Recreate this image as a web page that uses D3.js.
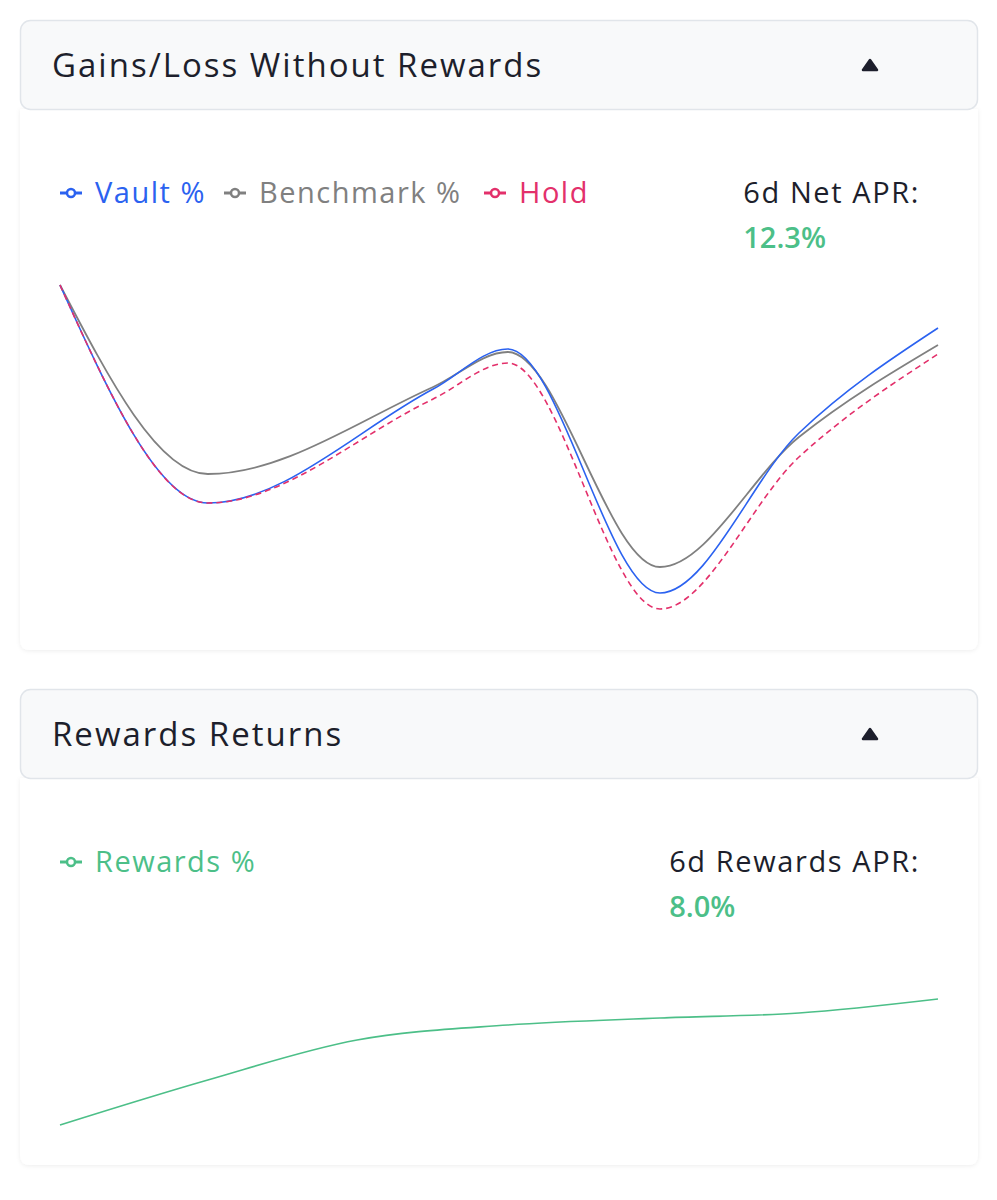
<!DOCTYPE html>
<html>
<head>
<meta charset="utf-8">
<script src="https://cdn.jsdelivr.net/npm/d3@7"></script>
<style>
  html, body { margin: 0; padding: 0; background: #ffffff; }
  svg { display: block; font-family: "Open Sans", "Noto Sans", sans-serif; }
</style>
</head>
<body>
<svg id="chart" width="997" height="1200"></svg>
<script>
// ---- data ----
const gainDays = [0, 1.01, 2.55, 3.06, 4.10, 5.05, 6];
const vaultPct = [0, -2.18, -1.04, -0.64, -3.08, -1.48, -0.43];
const benchmarkPct = [0, -1.89, -1.02, -0.67, -2.82, -1.52, -0.60];
const holdPct = [0, -2.18, -1.14, -0.78, -3.24, -1.72, -0.69];
const rewardDays = [0, 1.01, 2.03, 3.06, 4.10, 5.05, 6];
const rewardsPct = [0, 0.045, 0.085, 0.100, 0.107, 0.112, 0.126];
const netAPR = "12.3%";
const rewardsAPR = "8.0%";
const seriesNames = ["Vault %", "Benchmark %", "Hold"];

const svg = d3.select("#chart");
const defs = svg.append("defs");
const f = defs.append("filter").attr("id", "shadow").attr("x", "-5%").attr("y", "-5%").attr("width", "110%").attr("height", "115%");
f.append("feDropShadow").attr("dx", 0).attr("dy", 1).attr("stdDeviation", 2).attr("flood-color", "#000").attr("flood-opacity", 0.07);

const ink = "#1d1f2c";
const colors = ["#2b62f0", "#808080", "#e3306b"];
const green = "#4cbf88";

function card(top, bodyBottom, title) {
  const left = 20, right = 978, headH = 89, r = 10;
  const bodyTop = top + headH;
  const w = right - left;
  const path = `M${left},${bodyTop} H${right} V${bodyBottom - r} Q${right},${bodyBottom} ${right - r},${bodyBottom} H${left + r} Q${left},${bodyBottom} ${left},${bodyBottom - r} Z`;
  svg.append("path").attr("d", path).attr("fill", "#ffffff").attr("filter", "url(#shadow)");
  svg.append("rect").attr("x", left + 0.5).attr("y", top + 0.5).attr("width", w - 1).attr("height", headH)
    .attr("rx", r).attr("fill", "#f8f9fa").attr("stroke", "#e1e5ea").attr("stroke-width", 1.5);
  svg.append("text").attr("x", 52).attr("y", top + 57).attr("font-size", 33).attr("font-weight", 500)
    .attr("letter-spacing", 2).attr("fill", ink).text(title);
  const cx = 870, cy = top + 45;
  svg.append("path").attr("d", `M${cx - 7},${cy + 5} L${cx},${cy - 5} L${cx + 7},${cy + 5} Z`)
    .attr("fill", ink).attr("stroke", ink).attr("stroke-width", 2.5).attr("stroke-linejoin", "round");
}

card(20, 650, "Gains/Loss Without Rewards");
card(689, 1165, "Rewards Returns");

function legendItem(x, y, color, label) {
  svg.append("line").attr("x1", x).attr("x2", x + 22).attr("y1", y - 10).attr("y2", y - 10)
    .attr("stroke", color).attr("stroke-width", 3);
  svg.append("circle").attr("cx", x + 11).attr("cy", y - 10).attr("r", 4).attr("fill", "#fff")
    .attr("stroke", color).attr("stroke-width", 2.5);
  svg.append("text").attr("x", x + 35).attr("y", y).attr("font-size", 29).attr("letter-spacing", 1.5)
    .attr("fill", color).text(label);
}

function aprBlock(rightX, y, label, value) {
  const t = svg.append("text").attr("x", rightX).attr("y", y).attr("text-anchor", "end")
    .attr("font-size", 29).attr("font-weight", 500).attr("letter-spacing", 1.6).attr("fill", ink).text(label);
  const bb = t.node().getBBox();
  svg.append("text").attr("x", bb.x).attr("y", y + 45).attr("font-size", 29).attr("font-weight", 600)
    .attr("letter-spacing", 0).attr("fill", green).text(value);
}

legendItem(60, 203, colors[0], seriesNames[0]);
legendItem(224, 203, colors[1], seriesNames[1]);
legendItem(484, 203, colors[2], seriesNames[2]);
aprBlock(920, 203, "6d Net APR:", netAPR);

legendItem(60, 872, green, "Rewards %");
aprBlock(920, 872, "6d Rewards APR:", rewardsAPR);

// ---- chart 1 ----
const x = d3.scaleLinear().domain([0, 6]).range([60, 938]);
const allVals = vaultPct.concat(benchmarkPct, holdPct);
const y1 = d3.scaleLinear().domain([d3.min(allVals), d3.max(allVals)]).range([609, 285]);
const line1 = d3.line().x((d, i) => x(gainDays[i])).y(d => y1(d)).curve(d3.curveMonotoneX);

svg.append("path").attr("d", line1(benchmarkPct)).attr("fill", "none").attr("stroke", colors[1]).attr("stroke-width", 1.8);
svg.append("path").attr("d", line1(vaultPct)).attr("fill", "none").attr("stroke", colors[0]).attr("stroke-width", 1.6);
svg.append("path").attr("d", line1(holdPct)).attr("fill", "none").attr("stroke", colors[2]).attr("stroke-width", 1.6).attr("stroke-dasharray", "6,4");

// ---- chart 2 ----
const y2 = d3.scaleLinear().domain([0, d3.max(rewardsPct)]).range([1125, 999]);
const line2 = d3.line().x((d, i) => x(rewardDays[i])).y(d => y2(d)).curve(d3.curveMonotoneX);
svg.append("path").attr("d", line2(rewardsPct)).attr("fill", "none").attr("stroke", green).attr("stroke-width", 1.6);
</script>
</body>
</html>
